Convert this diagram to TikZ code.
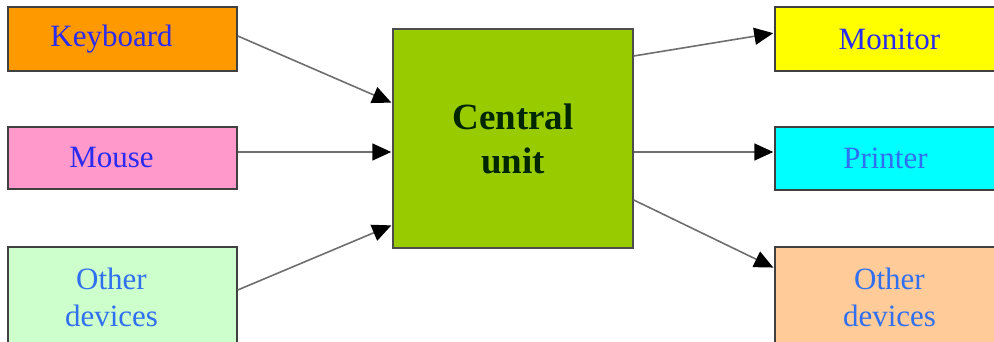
\documentclass[tikz,border=0pt]{standalone}
\usepackage{fontspec}
\setmainfont{Liberation Serif}
\usetikzlibrary{arrows.meta}
\definecolor{kbfill}{HTML}{FF9900}
\definecolor{msfill}{HTML}{FF99CC}
\definecolor{olfill}{HTML}{CCFFCC}
\definecolor{cufill}{HTML}{99CC00}
\definecolor{mnfill}{HTML}{FFFF00}
\definecolor{prfill}{HTML}{00FFFF}
\definecolor{orfill}{HTML}{FFCC99}
\definecolor{labelblue}{HTML}{2A2AF0}
\definecolor{lightblue}{HTML}{2F6FF0}
\definecolor{edgegray}{HTML}{6E6E6E}
% pulls a centred line a little to the left
\newcommand\leftnudge{\hspace*{-22pt}}
\tikzset{
  device/.style={draw=black!75, line width=1.5pt, minimum width=229pt,
    align=center, font=\fontsize{31}{37}\selectfont, text=labelblue, inner sep=0pt},
  cpu/.style={draw=black!70, line width=1.5pt, minimum width=240pt, minimum height=219pt,
    align=center, font=\fontsize{37}{44}\selectfont\bfseries, text=black!85!green, inner sep=0pt},
  link/.style={draw=edgegray, line width=1.6pt,
    -{Triangle[length=19pt,width=17pt,color=black]}, shorten >=1pt}
}
\begin{document}
\begin{tikzpicture}[x=1pt,y=-1pt]
  \useasboundingbox (0,0) rectangle (994,342);
  \clip (0,0) rectangle (994,342);
  % input devices
  \node[device, fill=kbfill, minimum height=64pt] (kb) at (122.5,39) {\leftnudge Keyboard};
  \node[device, fill=msfill, minimum height=62pt] (ms) at (122.5,158) {\leftnudge Mouse};
  \node[device, fill=olfill, minimum height=100pt, text=lightblue] (ol) at (122.5,297)
    {\leftnudge Other\\\leftnudge devices};
  % processor
  \node[cpu, fill=cufill] (cu) at (513,138.5) {Central\\unit};
  % output devices
  \node[device, fill=mnfill, minimum height=64pt] (mn) at (889.5,39) {Monitor};
  \node[device, fill=prfill, minimum height=63pt, text=lightblue] (pr) at (889.5,158.5) {\hspace*{-8pt}Printer};
  \node[device, fill=orfill, minimum height=100pt, text=lightblue] (or) at (889.5,297) {Other\\devices};
  % connections
  \draw[link] ([yshift=3pt]kb.east) -- ([yshift=35.5pt]cu.west);
  \draw[link] ([yshift=6pt]ms.east) -- ([yshift=-13.5pt]cu.west);
  \draw[link] ([yshift=7pt]ol.east) -- ([yshift=-86.5pt]cu.west);
  \draw[link] ([yshift=82.5pt]cu.east) -- ([yshift=6pt]mn.west);
  \draw[link] ([yshift=-13.5pt]cu.east) -- ([yshift=6.5pt]pr.west);
  \draw[link] ([yshift=-61.5pt]cu.east) -- ([yshift=29pt]or.west);
\end{tikzpicture}
\end{document}
